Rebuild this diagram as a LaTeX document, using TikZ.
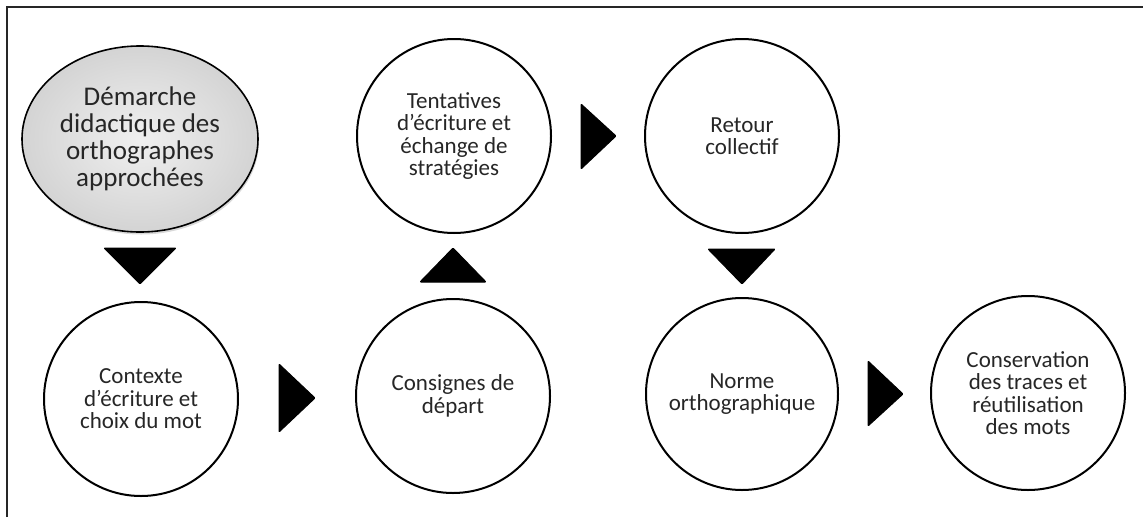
\documentclass[tikz,border=0pt]{standalone}
\usepackage{fontspec}
\setmainfont{Carlito}
\usetikzlibrary{shapes.geometric,shadows}
\begin{document}
\begin{tikzpicture}[x=1pt,y=-1pt,
  stepcircle/.style={circle,draw=black,line width=2pt,minimum size=194pt,inner sep=0pt,align=center,font=\fontsize{23}{22.5}\selectfont,text=black!85},
  tri/.style={fill=black,draw=black,line width=1pt,line join=round,rounded corners=0.8pt}]
\useasboundingbox (0,0) rectangle (1143,517);
% frame (top and left edges only visible)
\draw[line width=2pt,black!85] (7,517) -- (7,7) -- (1145,7);
% title ellipse
\node[ellipse,draw=black,line width=1.6pt,minimum width=236pt,minimum height=186pt,inner sep=0pt,
  inner color=gray!12,outer color=gray!34,
  drop shadow={opacity=0.3,shadow xshift=1pt,shadow yshift=-2.5pt},
  align=center,font=\fontsize{27}{27}\selectfont,text=black!85] (title) at (140,139)
  {Démarche\\didactique des\\orthographes\\approchées};
% step circles
\node[stepcircle] (c1) at (141,399) {Contexte\\d’écriture et\\choix du mot};
\node[stepcircle] (c2) at (453,396) {Consignes de\\départ};
\node[stepcircle] (c3) at (454,136) {Tentatives\\d’écriture et\\échange de\\stratégies};
\node[stepcircle] (c4) at (742,136) {Retour\\collectif};
\node[stepcircle,minimum size=192pt] (c5) at (742,394) {Norme\\orthographique};
\node[stepcircle] (c6) at (1028,393) {Conservation\\des traces et\\réutilisation\\des mots};
% triangles
\filldraw[tri] (104,248) -- (176,248) -- (140,284) -- cycle;
\filldraw[tri] (279,364) -- (279,432) -- (315,398) -- cycle;
\filldraw[tri] (420,282) -- (486,282) -- (453,248) -- cycle;
\filldraw[tri] (581,104) -- (581,169) -- (616,136) -- cycle;
\filldraw[tri] (708,249) -- (775,249) -- (742,284) -- cycle;
\filldraw[tri] (868,361) -- (868,426) -- (903,394) -- cycle;
\end{tikzpicture}
\end{document}
